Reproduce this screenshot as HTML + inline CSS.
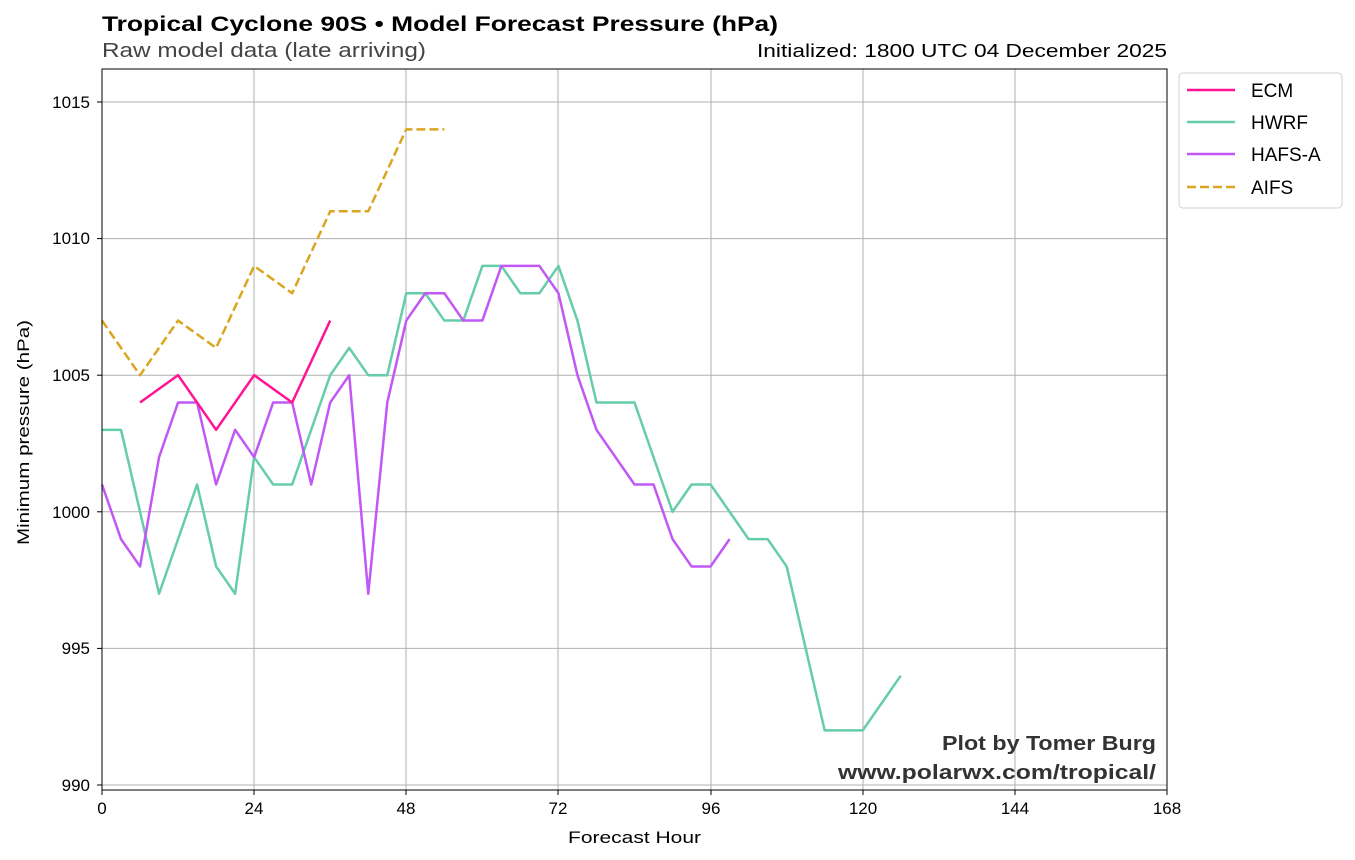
<!DOCTYPE html>
<html><head><meta charset="utf-8"><style>
body{margin:0;background:#fff;}
svg{display:block;font-family:"Liberation Sans",sans-serif;}
</style></head><body>
<svg width="1355" height="860" xmlns="http://www.w3.org/2000/svg">
<rect width="1355" height="860" fill="#fff"/>
<g stroke="#b0b0b0" stroke-width="1">
<line x1="254" y1="69" x2="254" y2="790"/><line x1="406" y1="69" x2="406" y2="790"/>
<line x1="558" y1="69" x2="558" y2="790"/><line x1="711" y1="69" x2="711" y2="790"/>
<line x1="863" y1="69" x2="863" y2="790"/><line x1="1015" y1="69" x2="1015" y2="790"/>
<line x1="102" y1="102" x2="1167" y2="102"/><line x1="102" y1="238.6" x2="1167" y2="238.6"/>
<line x1="102" y1="375.2" x2="1167" y2="375.2"/><line x1="102" y1="511.8" x2="1167" y2="511.8"/>
<line x1="102" y1="648.4" x2="1167" y2="648.4"/><line x1="102" y1="785" x2="1167" y2="785"/>
</g>
<g transform="translate(102,785) scale(6.3393,-27.32) translate(0,-990)" fill="none" stroke-width="2.5" stroke-linejoin="round">
<polyline vector-effect="non-scaling-stroke" stroke="#66cdaa" points="0,1003 3,1003 9,997 15,1001 18,998 21,997 24,1002 27,1001 30,1001 36,1005 39,1006 42,1005 45,1005 48,1008 51,1008 54,1007 57,1007 60,1009 63,1009 66,1008 69,1008 72,1009 75,1007 78,1004 81,1004 84,1004 90,1000 93,1001 96,1001 102,999 105,999 108,998 114,992 117,992 120,992 126,994"/>
<polyline vector-effect="non-scaling-stroke" stroke="#c158f5" points="0,1001 3,999 6,998 9,1002 12,1004 15,1004 18,1001 21,1003 24,1002 27,1004 30,1004 33,1001 36,1004 39,1005 42,997 45,1004 48,1007 51,1008 54,1008 57,1007 60,1007 63,1009 66,1009 69,1009 72,1008 75,1005 78,1003 84,1001 87,1001 90,999 93,998 96,998 99,999"/>
<polyline vector-effect="non-scaling-stroke" stroke="#ff1493" points="6,1004 12,1005 18,1003 24,1005 30,1004 36,1007"/>
<polyline vector-effect="non-scaling-stroke" stroke="#daa520" stroke-dasharray="9,4" points="0,1007 6,1005 12,1007 18,1006 24,1009 30,1008 36,1011 42,1011 48,1014 54,1014"/>
</g>
<rect x="102" y="69" width="1065" height="721" fill="none" stroke="#000" stroke-width="1"/>
<g stroke="#000" stroke-width="1">
<line x1="102" y1="790" x2="102" y2="795"/><line x1="254" y1="790" x2="254" y2="795"/><line x1="406" y1="790" x2="406" y2="795"/><line x1="558" y1="790" x2="558" y2="795"/><line x1="711" y1="790" x2="711" y2="795"/><line x1="863" y1="790" x2="863" y2="795"/><line x1="1015" y1="790" x2="1015" y2="795"/><line x1="1167" y1="790" x2="1167" y2="795"/>
<line x1="97" y1="102" x2="102" y2="102"/><line x1="97" y1="238.6" x2="102" y2="238.6"/><line x1="97" y1="375.2" x2="102" y2="375.2"/><line x1="97" y1="511.8" x2="102" y2="511.8"/><line x1="97" y1="648.4" x2="102" y2="648.4"/><line x1="97" y1="785" x2="102" y2="785"/>
</g>
<g font-size="17" fill="#000" text-anchor="middle">
<text x="102" y="814">0</text><text x="254" y="814">24</text><text x="406" y="814">48</text><text x="558" y="814">72</text><text x="711" y="814">96</text><text x="863" y="814">120</text><text x="1015" y="814">144</text><text x="1167" y="814">168</text>
</g>
<text x="568" y="843" font-size="17" textLength="133" lengthAdjust="spacingAndGlyphs">Forecast Hour</text>
<g font-size="17" fill="#000" text-anchor="end">
<text x="90" y="108">1015</text><text x="90" y="244">1010</text><text x="90" y="381">1005</text><text x="90" y="518">1000</text><text x="90" y="654">995</text><text x="90" y="791">990</text>
</g>
<text transform="translate(29,545) rotate(-90)" font-size="17" textLength="225" lengthAdjust="spacingAndGlyphs">Minimum pressure (hPa)</text>
<text x="102" y="31" font-size="21" font-weight="bold" textLength="676" lengthAdjust="spacingAndGlyphs">Tropical Cyclone 90S • Model Forecast Pressure (hPa)</text>
<text x="102" y="57" font-size="20" fill="#444" textLength="324" lengthAdjust="spacingAndGlyphs">Raw model data (late arriving)</text>
<text x="757" y="57" font-size="18" textLength="410" lengthAdjust="spacingAndGlyphs">Initialized: 1800 UTC 04 December 2025</text>
<text x="942" y="750" font-size="20" font-weight="bold" fill="#333" textLength="214" lengthAdjust="spacingAndGlyphs">Plot by Tomer Burg</text>
<text x="838" y="779" font-size="20" font-weight="bold" fill="#333" textLength="318" lengthAdjust="spacingAndGlyphs">www.polarwx.com/tropical/</text>
<rect x="1179" y="73" width="163" height="135" rx="4" fill="#fff" stroke="#d0d0d0"/>
<g stroke-width="2.5">
<line x1="1187" y1="90" x2="1235" y2="90" stroke="#ff1493"/>
<line x1="1187" y1="122" x2="1235" y2="122" stroke="#66cdaa"/>
<line x1="1187" y1="154" x2="1235" y2="154" stroke="#c158f5"/>
<line x1="1187" y1="187" x2="1235" y2="187" stroke="#daa520" stroke-dasharray="9,4"/>
</g>
<g font-size="19">
<text x="1251" y="97">ECM</text><text x="1251" y="129">HWRF</text><text x="1251" y="161">HAFS-A</text><text x="1251" y="194">AIFS</text>
</g>
</svg>
</body></html>
